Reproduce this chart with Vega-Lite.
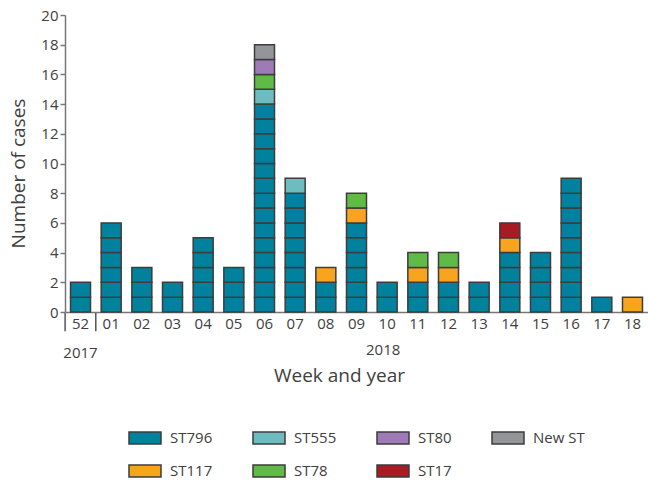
{
  "$schema": "https://vega.github.io/schema/vega-lite/v6.json",
  "width": 583,
  "height": 297,
  "autosize": {"type": "none"},
  "padding": {"left": 65, "top": 15, "right": 0, "bottom": 170},
  "config": {
    "view": {"stroke": null},
    "font": "Open Sans",
    "axis": {"labelColor": "#404040", "titleColor": "#404040", "labelFont": "Open Sans", "titleFont": "Open Sans", "titleFontWeight": "normal", "domainColor": "#777777", "domainWidth": 1.5, "tickColor": "#777777", "tickWidth": 1.5, "grid": false, "labelOverlap": false},
    "axisX": {"titleFontSize": 19, "titlePadding": 35, "titleX": 274, "titleAlign": "center", "labelAngle": 0, "labelFontSize": 15, "labelPadding": 4, "ticks": false},
    "axisY": {"titleFontSize": 19, "titlePadding": 12, "titleY": 158, "values": [0, 2, 4, 6, 8, 10, 12, 14, 16, 18, 20], "labelOverlap": false, "labelFontSize": 15, "tickSize": 5, "labelPadding": 2}
  },
  "datasets": {
    "cases": [
      {"week": "52", "st": "ST796", "cases": 1}, {"week": "52", "st": "ST796", "cases": 1},
      {"week": "01", "st": "ST796", "cases": 1}, {"week": "01", "st": "ST796", "cases": 1}, {"week": "01", "st": "ST796", "cases": 1}, {"week": "01", "st": "ST796", "cases": 1}, {"week": "01", "st": "ST796", "cases": 1}, {"week": "01", "st": "ST796", "cases": 1},
      {"week": "02", "st": "ST796", "cases": 1}, {"week": "02", "st": "ST796", "cases": 1}, {"week": "02", "st": "ST796", "cases": 1},
      {"week": "03", "st": "ST796", "cases": 1}, {"week": "03", "st": "ST796", "cases": 1},
      {"week": "04", "st": "ST796", "cases": 1}, {"week": "04", "st": "ST796", "cases": 1}, {"week": "04", "st": "ST796", "cases": 1}, {"week": "04", "st": "ST796", "cases": 1}, {"week": "04", "st": "ST796", "cases": 1},
      {"week": "05", "st": "ST796", "cases": 1}, {"week": "05", "st": "ST796", "cases": 1}, {"week": "05", "st": "ST796", "cases": 1},
      {"week": "06", "st": "ST796", "cases": 1}, {"week": "06", "st": "ST796", "cases": 1}, {"week": "06", "st": "ST796", "cases": 1}, {"week": "06", "st": "ST796", "cases": 1}, {"week": "06", "st": "ST796", "cases": 1}, {"week": "06", "st": "ST796", "cases": 1}, {"week": "06", "st": "ST796", "cases": 1}, {"week": "06", "st": "ST796", "cases": 1}, {"week": "06", "st": "ST796", "cases": 1}, {"week": "06", "st": "ST796", "cases": 1}, {"week": "06", "st": "ST796", "cases": 1}, {"week": "06", "st": "ST796", "cases": 1}, {"week": "06", "st": "ST796", "cases": 1}, {"week": "06", "st": "ST796", "cases": 1},
      {"week": "06", "st": "ST555", "cases": 1}, {"week": "06", "st": "ST78", "cases": 1}, {"week": "06", "st": "ST80", "cases": 1}, {"week": "06", "st": "New ST", "cases": 1},
      {"week": "07", "st": "ST796", "cases": 1}, {"week": "07", "st": "ST796", "cases": 1}, {"week": "07", "st": "ST796", "cases": 1}, {"week": "07", "st": "ST796", "cases": 1}, {"week": "07", "st": "ST796", "cases": 1}, {"week": "07", "st": "ST796", "cases": 1}, {"week": "07", "st": "ST796", "cases": 1}, {"week": "07", "st": "ST796", "cases": 1}, {"week": "07", "st": "ST555", "cases": 1},
      {"week": "08", "st": "ST796", "cases": 1}, {"week": "08", "st": "ST796", "cases": 1}, {"week": "08", "st": "ST117", "cases": 1},
      {"week": "09", "st": "ST796", "cases": 1}, {"week": "09", "st": "ST796", "cases": 1}, {"week": "09", "st": "ST796", "cases": 1}, {"week": "09", "st": "ST796", "cases": 1}, {"week": "09", "st": "ST796", "cases": 1}, {"week": "09", "st": "ST796", "cases": 1}, {"week": "09", "st": "ST117", "cases": 1}, {"week": "09", "st": "ST78", "cases": 1},
      {"week": "10", "st": "ST796", "cases": 1}, {"week": "10", "st": "ST796", "cases": 1},
      {"week": "11", "st": "ST796", "cases": 1}, {"week": "11", "st": "ST796", "cases": 1}, {"week": "11", "st": "ST117", "cases": 1}, {"week": "11", "st": "ST78", "cases": 1},
      {"week": "12", "st": "ST796", "cases": 1}, {"week": "12", "st": "ST796", "cases": 1}, {"week": "12", "st": "ST117", "cases": 1}, {"week": "12", "st": "ST78", "cases": 1},
      {"week": "13", "st": "ST796", "cases": 1}, {"week": "13", "st": "ST796", "cases": 1},
      {"week": "14", "st": "ST796", "cases": 1}, {"week": "14", "st": "ST796", "cases": 1}, {"week": "14", "st": "ST796", "cases": 1}, {"week": "14", "st": "ST796", "cases": 1}, {"week": "14", "st": "ST117", "cases": 1}, {"week": "14", "st": "ST17", "cases": 1},
      {"week": "15", "st": "ST796", "cases": 1}, {"week": "15", "st": "ST796", "cases": 1}, {"week": "15", "st": "ST796", "cases": 1}, {"week": "15", "st": "ST796", "cases": 1},
      {"week": "16", "st": "ST796", "cases": 1}, {"week": "16", "st": "ST796", "cases": 1}, {"week": "16", "st": "ST796", "cases": 1}, {"week": "16", "st": "ST796", "cases": 1}, {"week": "16", "st": "ST796", "cases": 1}, {"week": "16", "st": "ST796", "cases": 1}, {"week": "16", "st": "ST796", "cases": 1}, {"week": "16", "st": "ST796", "cases": 1}, {"week": "16", "st": "ST796", "cases": 1},
      {"week": "17", "st": "ST796", "cases": 1},
      {"week": "18", "st": "ST117", "cases": 1}
    ],
    "years": [
      {"week": "52", "year": "2017"},
      {"week": "10", "year": "2018"}
    ],
    "separators": [
      {"week": "52"},
      {"week": "01"}
    ]
  },
  "layer": [
    {
      "data": {"name": "cases"},
      "transform": [{"calculate": "indexof(['ST796', 'ST555', 'ST117', 'ST78', 'ST80', 'ST17', 'New ST'], datum.st)", "as": "stackOrder"}],
      "mark": {"type": "bar", "stroke": "#3d3d3d", "strokeWidth": 1.5},
      "encoding": {
        "x": {
          "field": "week", "type": "nominal", "title": "Week and year",
          "scale": {"domain": ["52", "01", "02", "03", "04", "05", "06", "07", "08", "09", "10", "11", "12", "13", "14", "15", "16", "17", "18"], "paddingInner": 0.348, "paddingOuter": 0.18}
        },
        "y": {
          "field": "cases", "type": "quantitative", "stack": "zero", "title": "Number of cases",
          "scale": {"domain": [0, 20], "nice": false}
        },
        "color": {
          "field": "st", "type": "nominal",
          "scale": {"domain": ["ST796", "ST555", "ST80", "New ST", "ST117", "ST78", "ST17"], "range": ["#00829f", "#6dbcc0", "#9e7bb6", "#939598", "#f8a51d", "#5fba46", "#a71c22"]},
          "legend": {
            "title": null, "orient": "none", "legendX": 63, "legendY": 406, "direction": "horizontal", "columns": 4,
            "symbolType": "M-1,-0.375H1V0.375H-1Z", "symbolSize": 1024, "symbolStrokeColor": "#3d3d3d", "symbolStrokeWidth": 1.5,
            "labelFontSize": 15, "labelColor": "#404040", "labelOffset": 8, "columnPadding": 37, "rowPadding": 7, "padding": 0
          }
        },
        "order": {"field": "stackOrder", "type": "quantitative", "sort": "ascending"}
      }
    },
    {
      "data": {"name": "separators"},
      "mark": {"type": "rule", "color": "#555555", "strokeWidth": 1.5},
      "encoding": {
        "x": {"field": "week", "type": "nominal", "title": "Week and year", "bandPosition": -0.27},
        "y": {"datum": -0.07, "title": "Number of cases"},
        "y2": {"datum": -1.3}
      }
    },
    {
      "data": {"name": "years"},
      "transform": [{"filter": "datum.year === '2017'"}],
      "mark": {"type": "text", "fontSize": 15, "color": "#404040"},
      "encoding": {
        "x": {"field": "week", "type": "nominal", "title": "Week and year"},
        "y": {"datum": -2.75, "title": "Number of cases"},
        "text": {"field": "year"}
      }
    },
    {
      "data": {"name": "years"},
      "transform": [{"filter": "datum.year === '2018'"}],
      "mark": {"type": "text", "fontSize": 15, "color": "#404040", "dx": -4},
      "encoding": {
        "x": {"field": "week", "type": "nominal", "title": "Week and year"},
        "y": {"datum": -2.55, "title": "Number of cases"},
        "text": {"field": "year"}
      }
    }
  ]
}
